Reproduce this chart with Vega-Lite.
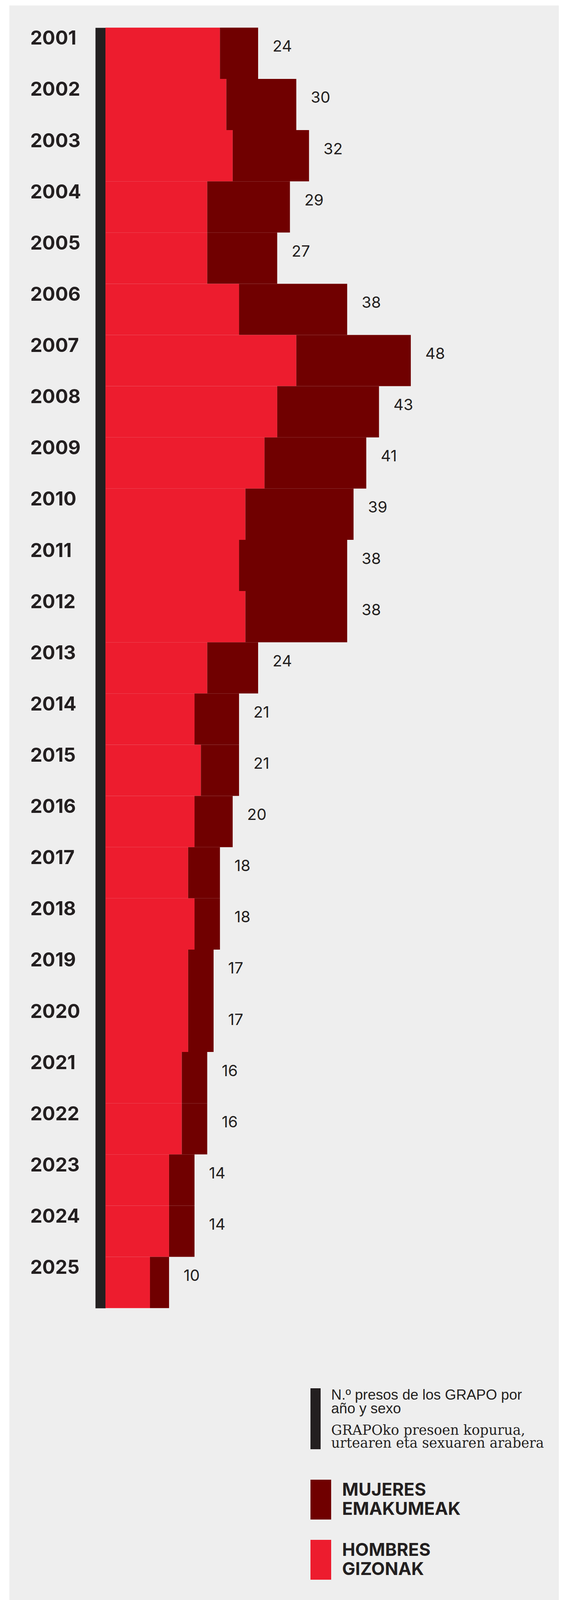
{
  "$schema": "https://vega.github.io/schema/vega-lite/v6.json",
  "width": 1407,
  "height": 4082,
  "autosize": {"type": "none"},
  "padding": {"left": 24, "top": 14, "right": 26, "bottom": 0},
  "background": "#ffffff",
  "config": {
    "view": {"fill": "#eeeeee", "stroke": null},
    "axis": {"grid": false}
  },
  "title": {
    "text": ["N.º presos de los GRAPO por", "año y sexo"],
    "subtitle": ["GRAPOko presoen kopurua,", "urtearen eta sexuaren arabera"],
    "anchor": "start",
    "frame": "group",
    "orient": "top",
    "offset": 0,
    "align": "left",
    "dx": 824,
    "dy": 3700,
    "font": "Liberation Sans",
    "fontSize": 37,
    "fontWeight": "normal",
    "color": "#231f20",
    "lineHeight": 35,
    "subtitleFont": "DejaVu Serif",
    "subtitleFontSize": 35,
    "subtitleColor": "#231f20",
    "subtitleLineHeight": 33.5,
    "subtitlePadding": 19,
    "limit": 0
  },
  "data": {
    "values": [
      {"anio": "2001", "sexo": "HOMBRES", "presos": 18}, {"anio": "2001", "sexo": "MUJERES", "presos": 6},
      {"anio": "2002", "sexo": "HOMBRES", "presos": 19}, {"anio": "2002", "sexo": "MUJERES", "presos": 11},
      {"anio": "2003", "sexo": "HOMBRES", "presos": 20}, {"anio": "2003", "sexo": "MUJERES", "presos": 12},
      {"anio": "2004", "sexo": "HOMBRES", "presos": 16}, {"anio": "2004", "sexo": "MUJERES", "presos": 13},
      {"anio": "2005", "sexo": "HOMBRES", "presos": 16}, {"anio": "2005", "sexo": "MUJERES", "presos": 11},
      {"anio": "2006", "sexo": "HOMBRES", "presos": 21}, {"anio": "2006", "sexo": "MUJERES", "presos": 17},
      {"anio": "2007", "sexo": "HOMBRES", "presos": 30}, {"anio": "2007", "sexo": "MUJERES", "presos": 18},
      {"anio": "2008", "sexo": "HOMBRES", "presos": 27}, {"anio": "2008", "sexo": "MUJERES", "presos": 16},
      {"anio": "2009", "sexo": "HOMBRES", "presos": 25}, {"anio": "2009", "sexo": "MUJERES", "presos": 16},
      {"anio": "2010", "sexo": "HOMBRES", "presos": 22}, {"anio": "2010", "sexo": "MUJERES", "presos": 17},
      {"anio": "2011", "sexo": "HOMBRES", "presos": 21}, {"anio": "2011", "sexo": "MUJERES", "presos": 17},
      {"anio": "2012", "sexo": "HOMBRES", "presos": 22}, {"anio": "2012", "sexo": "MUJERES", "presos": 16},
      {"anio": "2013", "sexo": "HOMBRES", "presos": 16}, {"anio": "2013", "sexo": "MUJERES", "presos": 8},
      {"anio": "2014", "sexo": "HOMBRES", "presos": 14}, {"anio": "2014", "sexo": "MUJERES", "presos": 7},
      {"anio": "2015", "sexo": "HOMBRES", "presos": 15}, {"anio": "2015", "sexo": "MUJERES", "presos": 6},
      {"anio": "2016", "sexo": "HOMBRES", "presos": 14}, {"anio": "2016", "sexo": "MUJERES", "presos": 6},
      {"anio": "2017", "sexo": "HOMBRES", "presos": 13}, {"anio": "2017", "sexo": "MUJERES", "presos": 5},
      {"anio": "2018", "sexo": "HOMBRES", "presos": 14}, {"anio": "2018", "sexo": "MUJERES", "presos": 4},
      {"anio": "2019", "sexo": "HOMBRES", "presos": 13}, {"anio": "2019", "sexo": "MUJERES", "presos": 4},
      {"anio": "2020", "sexo": "HOMBRES", "presos": 13}, {"anio": "2020", "sexo": "MUJERES", "presos": 4},
      {"anio": "2021", "sexo": "HOMBRES", "presos": 12}, {"anio": "2021", "sexo": "MUJERES", "presos": 4},
      {"anio": "2022", "sexo": "HOMBRES", "presos": 12}, {"anio": "2022", "sexo": "MUJERES", "presos": 4},
      {"anio": "2023", "sexo": "HOMBRES", "presos": 10}, {"anio": "2023", "sexo": "MUJERES", "presos": 4},
      {"anio": "2024", "sexo": "HOMBRES", "presos": 10}, {"anio": "2024", "sexo": "MUJERES", "presos": 4},
      {"anio": "2025", "sexo": "HOMBRES", "presos": 7}, {"anio": "2025", "sexo": "MUJERES", "presos": 3}
    ]
  },
  "layer": [
    {
      "mark": {"type": "bar", "strokeWidth": 0, "opacity": 1},
      "encoding": {
        "y": {
          "field": "anio",
          "type": "ordinal",
          "scale": {"range": [56.8, 3334.7], "paddingInner": 0, "paddingOuter": 0},
          "axis": {
            "title": null,
            "ticks": false,
            "tickSize": 0,
            "domain": true,
            "domainWidth": 26,
            "domainColor": "#231f20",
            "offset": -233,
            "labelAlign": "left",
            "labelPadding": 180,
            "labelBaseline": "alphabetic",
            "labelOffset": -22,
            "labelFont": "Inter",
            "labelFontSize": 49,
            "labelFontWeight": "bold",
            "labelColor": "#231f20",
            "labelOverlap": false,
            "labelLimit": 400
          }
        },
        "x": {
          "field": "presos",
          "type": "quantitative",
          "stack": "zero",
          "scale": {"domain": [-15.101, 71.271], "nice": false, "zero": false},
          "axis": null
        },
        "color": {
          "field": "sexo",
          "type": "nominal",
          "scale": {"domain": ["MUJERES", "HOMBRES"], "range": ["#700000", "#ed1c2e"]},
          "legend": {
            "orient": "none",
            "legendX": 771,
            "legendY": 3774,
            "direction": "vertical",
            "title": null,
            "padding": 0,
            "symbolType": "M-1,-1H0.039V1H-1Z",
            "symbolSize": 10404,
            "symbolStrokeWidth": 0,
            "symbolOpacity": 1,
            "labelExpr": "datum.label == 'MUJERES' ? ['MUJERES', 'EMAKUMEAK'] : ['HOMBRES', 'GIZONAK']",
            "labelFont": "Inter",
            "labelFontSize": 45,
            "labelFontWeight": "bold",
            "labelColor": "#231f20",
            "labelOffset": -21,
            "labelLimit": 800,
            "labelBaseline": "top",
            "rowPadding": 52,
            "encode": {"labels": {"update": {"lineHeight": {"value": 49}, "dy": {"value": -46}}}}
          }
        },
        "order": {"field": "sexo", "sort": "ascending"}
      }
    },
    {
      "transform": [
        {"aggregate": [{"op": "sum", "field": "presos", "as": "total"}], "groupby": ["anio"]}
      ],
      "mark": {
        "type": "text",
        "align": "left",
        "baseline": "alphabetic",
        "dx": 37,
        "dy": -4,
        "font": "Inter",
        "fontSize": 40,
        "color": "#231f20"
      },
      "encoding": {
        "y": {
          "field": "anio",
          "type": "ordinal",
          "scale": {"range": [56.8, 3334.7], "paddingInner": 0, "paddingOuter": 0}
        },
        "x": {
          "field": "total",
          "type": "quantitative",
          "scale": {"domain": [-15.101, 71.271], "nice": false, "zero": false}
        },
        "text": {"field": "total", "type": "quantitative"},
        "opacity": {
          "datum": "nota",
          "type": "nominal",
          "scale": {"domain": ["nota"], "range": [1, 1]},
          "legend": {
            "orient": "none",
            "legendX": 771,
            "legendY": 3540,
            "direction": "vertical",
            "title": null,
            "padding": 0,
            "symbolType": "M-1,-1H-0.6667V1H-1Z",
            "symbolSize": 24336,
            "symbolFillColor": "#231f20",
            "symbolStrokeWidth": 0,
            "symbolOpacity": 1,
            "labelExpr": "''",
            "encode": {"symbols": {"update": {"fill": {"value": "#231f20"}, "opacity": {"value": 1}, "strokeWidth": {"value": 0}}}}
          }
        }
      }
    }
  ]
}
